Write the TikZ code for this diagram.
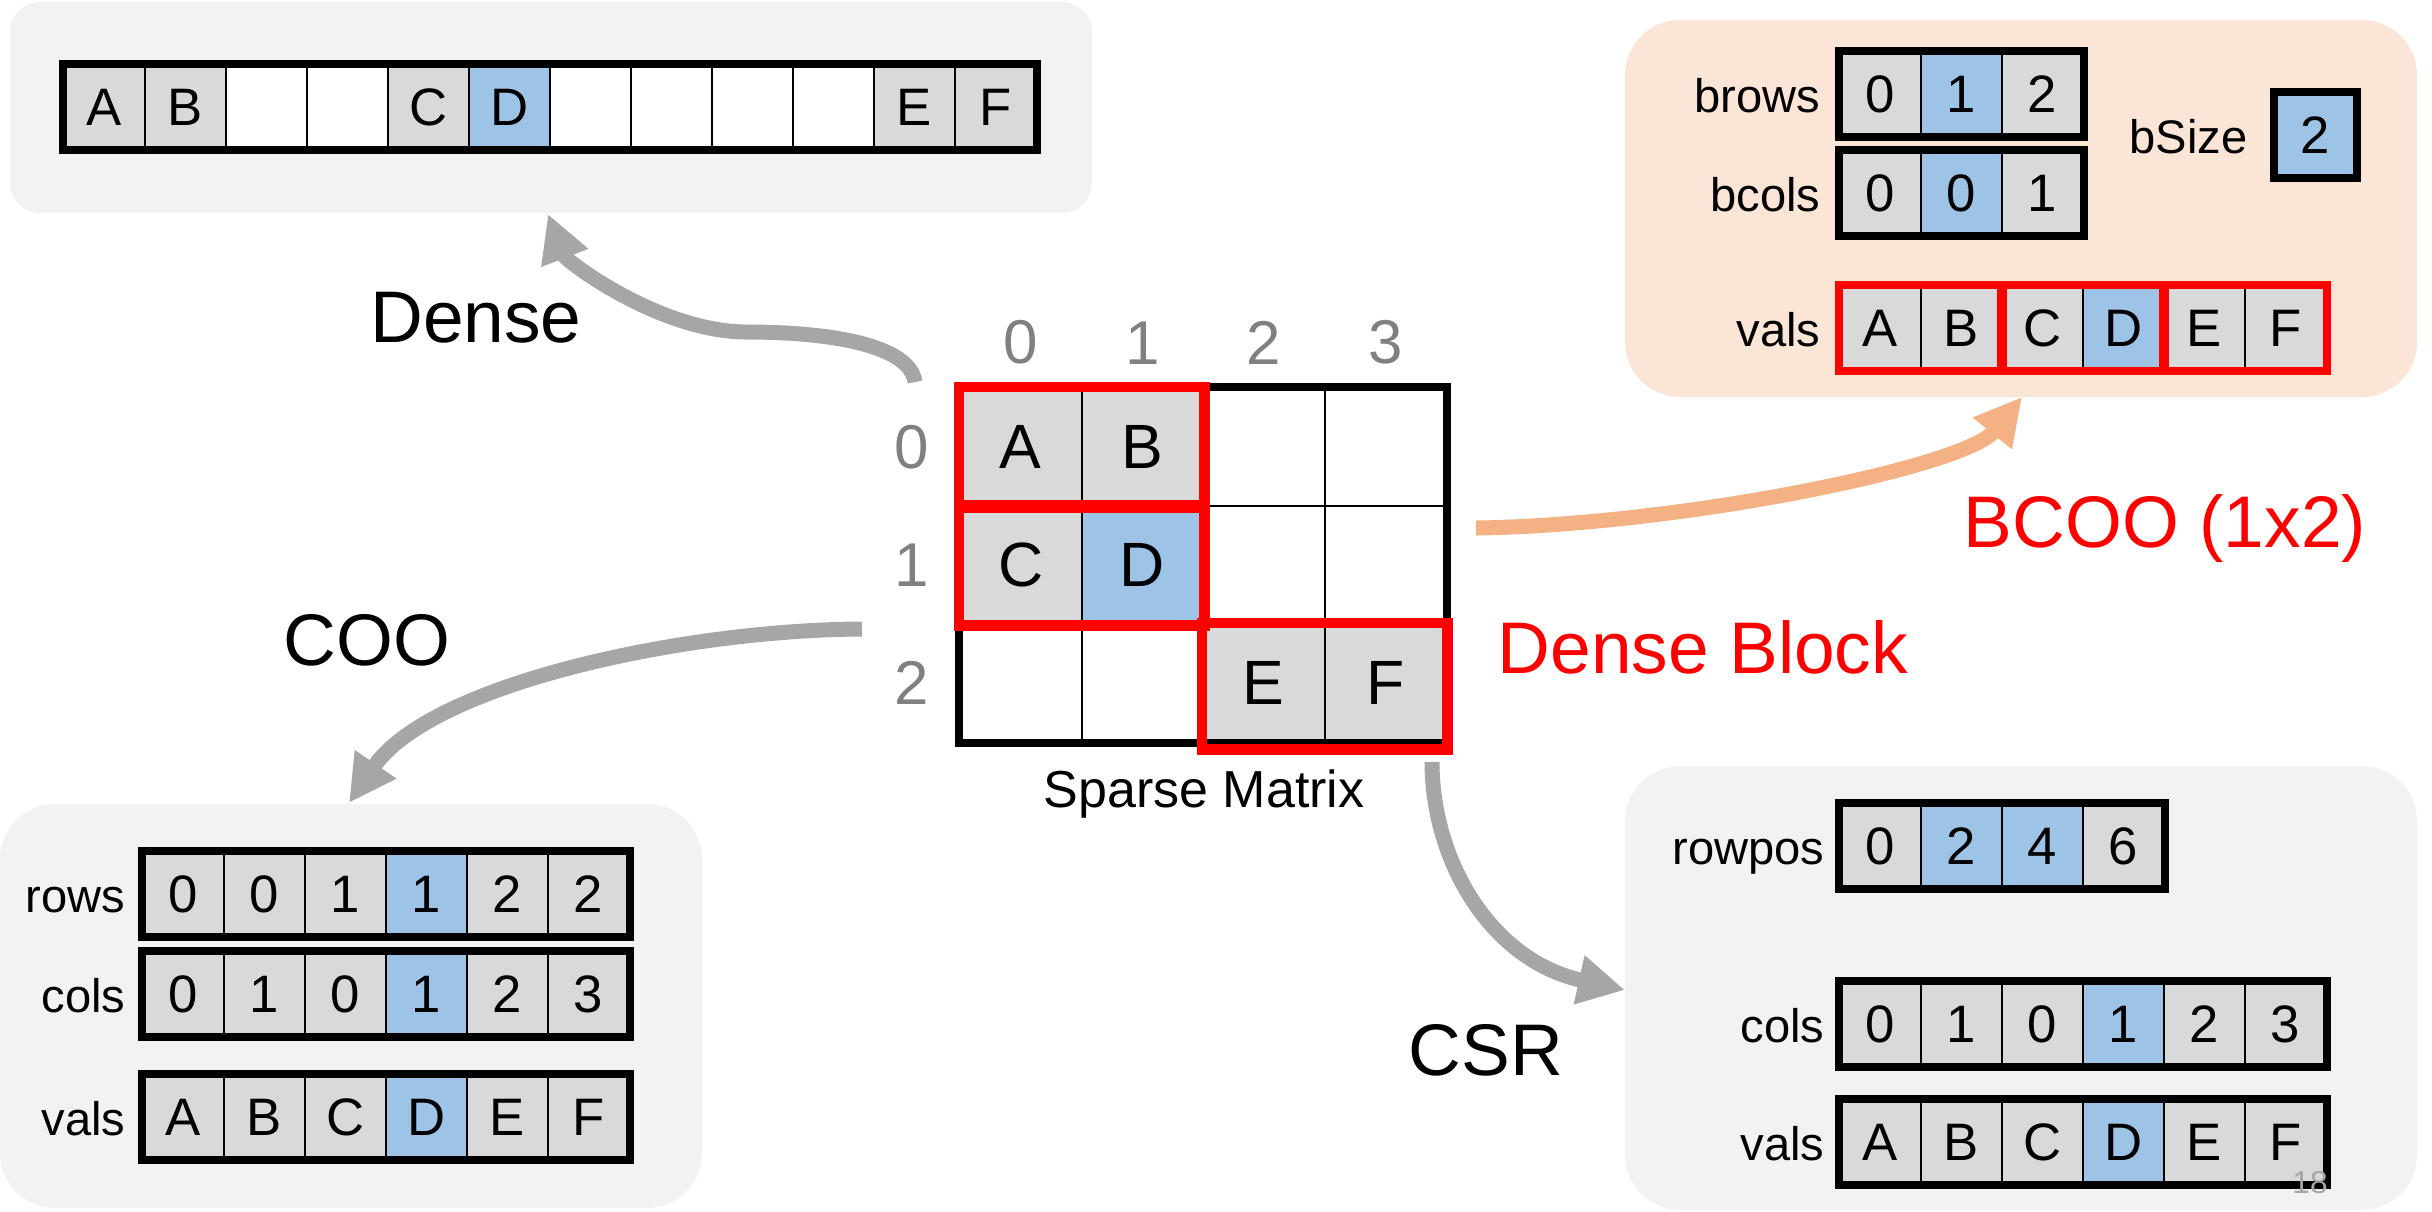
\documentclass[tikz,border=0pt]{standalone}
\usepackage{fontspec}
\setmainfont{Liberation Sans}
\usetikzlibrary{calc, arrows.meta, positioning}

\definecolor{cellgray}{HTML}{D9D9D9}
\definecolor{cellblue}{HTML}{9DC3E6}
\definecolor{panelgray}{HTML}{F2F2F2}
\definecolor{panelpeach}{HTML}{FBE5D6}
\definecolor{flowgray}{HTML}{A6A6A6}
\definecolor{flowpeach}{HTML}{F4B183}
\definecolor{idxgray}{HTML}{808080}

\begin{document}
\begin{tikzpicture}
\tikzset{>={Triangle[length=0.47cm,width=0.47cm]}}
\tikzset{
  cell/.style={draw, line width=0.6pt, minimum width=0.81cm, minimum height=0.84cm,
    inner sep=0, anchor=north west, font=\fontsize{15}{18}\selectfont},
  mcell/.style={draw, line width=0.6pt, minimum width=1.215cm, minimum height=1.18cm,
    inner sep=0, anchor=north west, font=\fontsize{17.8}{21}\selectfont},
  outline/.style={line width=2.3pt},
  block/.style={draw=red, line width=3.1pt},
  lbl/.style={inner sep=0, anchor=base east, font=\fontsize{13.4}{16}\selectfont},
  idx/.style={inner sep=0, text=idxgray, font=\fontsize{17.6}{20}\selectfont},
  title/.style={inner sep=0, anchor=base, font=\fontsize{20.8}{24}\selectfont},
  flow/.style={->, line width=0.15cm, draw=flowgray},
  panel/.style={rounded corners=0.55cm},
}
% one strip of boxed values: name, top left corner, number of cells, value/fill list
\newcommand{\cellstrip}[4]{%
  \foreach \val/\bg [count=\i] in {#4}
    \node[cell, fill=\bg] (#1-\i) at ($(#2)+({(\i-1)*0.81},0)$) {\val};
  \draw[outline] (#1-1.north west) rectangle (#1-#3.south east);
}

  \useasboundingbox (0,0) rectangle (24.32,-12.11);

  % background panels
  \fill[panelgray, rounded corners=0.3cm] (0.10,-0.02) rectangle (10.92,-2.13);
  \fill[panelpeach, panel] (16.25,-0.20) rectangle (24.17,-3.97);
  \fill[panelgray, panel] (0.00,-8.04) rectangle (7.02,-12.08);
  \fill[panelgray, panel] (16.25,-7.66) rectangle (24.17,-12.10);

  \coordinate (mat) at (9.59,-3.87);
  \coordinate (dense) at (0.63,-0.64);
  \coordinate (coorows) at (1.42,-8.51);
  \coordinate (coocols) at (1.42,-9.51);
  \coordinate (coovals) at (1.42,-10.74);
  \coordinate (brows) at (18.39,-0.51);
  \coordinate (bcols) at (18.39,-1.50);
  \coordinate (bvals) at (18.39,-2.85);
  \coordinate (bsize) at (22.74,-0.92);
  \coordinate (rowpos) at (18.39,-8.03);
  \coordinate (csrcols) at (18.39,-9.81);
  \coordinate (csrvals) at (18.39,-10.99);

  % sparse matrix
  \foreach \val/\bg [count=\c] in {A/cellgray, B/cellgray, {}/white, {}/white}
    \node[mcell, fill=\bg] (m-1-\c) at ($(mat)+({(\c-1)*1.215},0)$) {\val};
  \foreach \val/\bg [count=\c] in {C/cellgray, D/cellblue, {}/white, {}/white}
    \node[mcell, fill=\bg] (m-2-\c) at ($(mat)+({(\c-1)*1.215},-1.18)$) {\val};
  \foreach \val/\bg [count=\c] in {{}/white, {}/white, E/cellgray, F/cellgray}
    \node[mcell, fill=\bg] (m-3-\c) at ($(mat)+({(\c-1)*1.215},-2.36)$) {\val};
  \draw[outline] (m-1-1.north west) rectangle (m-3-4.south east);
  \foreach \n [count=\c] in {0,...,3}
    \node[idx, anchor=south, yshift=0.22cm] (col-\c) at (m-1-\c.north) {\n};
  \foreach \n [count=\r] in {0,1,2}
    \node[idx, anchor=east, xshift=-0.29cm] (row-\r) at (m-\r-1.west) {\n};
  \draw[block] (m-1-1.north west) rectangle (m-1-2.south east);
  \draw[block] (m-2-1.north west) rectangle (m-2-2.south east);
  \draw[block] (m-3-3.north west) rectangle ($(m-3-4.south east)+(0,-0.06)$);
  \node[inner sep=0, anchor=base, font=\fontsize{14.8}{17}\selectfont] (smlabel)
    at ($(m-3-2.south east)+(0,-0.64)$) {Sparse Matrix};

  % dense
  \cellstrip{d}{dense}{12}{A/cellgray, B/cellgray, {}/white, {}/white, C/cellgray, D/cellblue,
    {}/white, {}/white, {}/white, {}/white, E/cellgray, F/cellgray}

  % coo
  \cellstrip{cr}{coorows}{6}{0/cellgray, 0/cellgray, 1/cellgray, 1/cellblue, 2/cellgray, 2/cellgray}
  \cellstrip{cc}{coocols}{6}{0/cellgray, 1/cellgray, 0/cellgray, 1/cellblue, 2/cellgray, 3/cellgray}
  \cellstrip{cv}{coovals}{6}{A/cellgray, B/cellgray, C/cellgray, D/cellblue, E/cellgray, F/cellgray}
  \node[lbl, xshift=-0.16cm] (crlbl) at (cr-1.base west) {rows};
  \node[lbl, xshift=-0.16cm] (cclbl) at (cc-1.base west) {cols};
  \node[lbl, xshift=-0.16cm] (cvlbl) at (cv-1.base west) {vals};

  % bcoo
  \cellstrip{br}{brows}{3}{0/cellgray, 1/cellblue, 2/cellgray}
  \cellstrip{bc}{bcols}{3}{0/cellgray, 0/cellblue, 1/cellgray}
  \cellstrip{bs}{bsize}{1}{2/cellblue}
  \foreach \val/\bg [count=\i] in {A/cellgray, B/cellgray, C/cellgray, D/cellblue, E/cellgray, F/cellgray}
    \node[cell, fill=\bg] (bv-\i) at ($(bvals)+({(\i-1)*0.81},0)$) {\val};
  \draw[block, line width=2.4pt] (bv-1.north west) rectangle (bv-2.south east);
  \draw[block, line width=2.4pt] (bv-3.north west) rectangle (bv-4.south east);
  \draw[block, line width=2.4pt] (bv-5.north west) rectangle (bv-6.south east);
  \node[lbl, xshift=-0.18cm] (brlbl) at (br-1.base west) {brows};
  \node[lbl, xshift=-0.18cm] (bclbl) at (bc-1.base west) {bcols};
  \node[lbl, xshift=-0.18cm] (bvlbl) at (bv-1.base west) {vals};
  \node[lbl, xshift=-0.26cm] (bslbl) at (bs-1.base west) {bSize};

  % csr
  \cellstrip{rp}{rowpos}{4}{0/cellgray, 2/cellblue, 4/cellblue, 6/cellgray}
  \cellstrip{sc}{csrcols}{6}{0/cellgray, 1/cellgray, 0/cellgray, 1/cellblue, 2/cellgray, 3/cellgray}
  \cellstrip{sv}{csrvals}{6}{A/cellgray, B/cellgray, C/cellgray, D/cellblue, E/cellgray, F/cellgray}
  \node[lbl, xshift=-0.14cm] (rplbl) at (rp-1.base west) {rowpos};
  \node[lbl, xshift=-0.14cm] (sclbl) at (sc-1.base west) {cols};
  \node[lbl, xshift=-0.14cm] (svlbl) at (sv-1.base west) {vals};
  \node[inner sep=0, anchor=base, text=flowgray, font=\fontsize{9}{10}\selectfont] (pagenum)
    at (23.10,-11.93) {18};

  % conversions
  \coordinate (dstart) at (9.15,-3.82);
  \coordinate (dend) at (5.48,-2.14);
  \coordinate (cstart) at (8.62,-6.29);
  \coordinate (cend) at (3.49,-8.03);
  \coordinate (bstart) at (14.76,-5.28);
  \coordinate (bend) at (20.22,-3.97);
  \coordinate (sstart) at (14.32,-7.62);
  \coordinate (send) at (16.25,-9.90);

  \draw[flow] (dstart) .. controls (9.10,-3.45) and (8.30,-3.32) .. (7.47,-3.32)
    .. controls (6.60,-3.32) and (5.66,-2.61) .. (dend);
  \draw[flow] (cstart) .. controls (6.80,-6.30) and (4.30,-6.85) .. (cend);
  \draw[flow, draw=flowpeach] (bstart) .. controls (16.80,-5.25) and (19.65,-4.67) .. (bend);
  \draw[flow] (sstart) .. controls (14.32,-8.60) and (14.90,-9.60) .. (send);

  \node[title] (densel) at (4.76,-3.42) {Dense};
  \node[title] (cool) at (3.67,-6.65) {COO};
  \node[title] (csrl) at (14.86,-10.75) {CSR};
  \node[title, text=red] (bcool) at (21.65,-5.47) {BCOO (1x2)};
  \node[title, text=red] (blockl) at (17.03,-6.73) {Dense Block};
\end{tikzpicture}
\end{document}
